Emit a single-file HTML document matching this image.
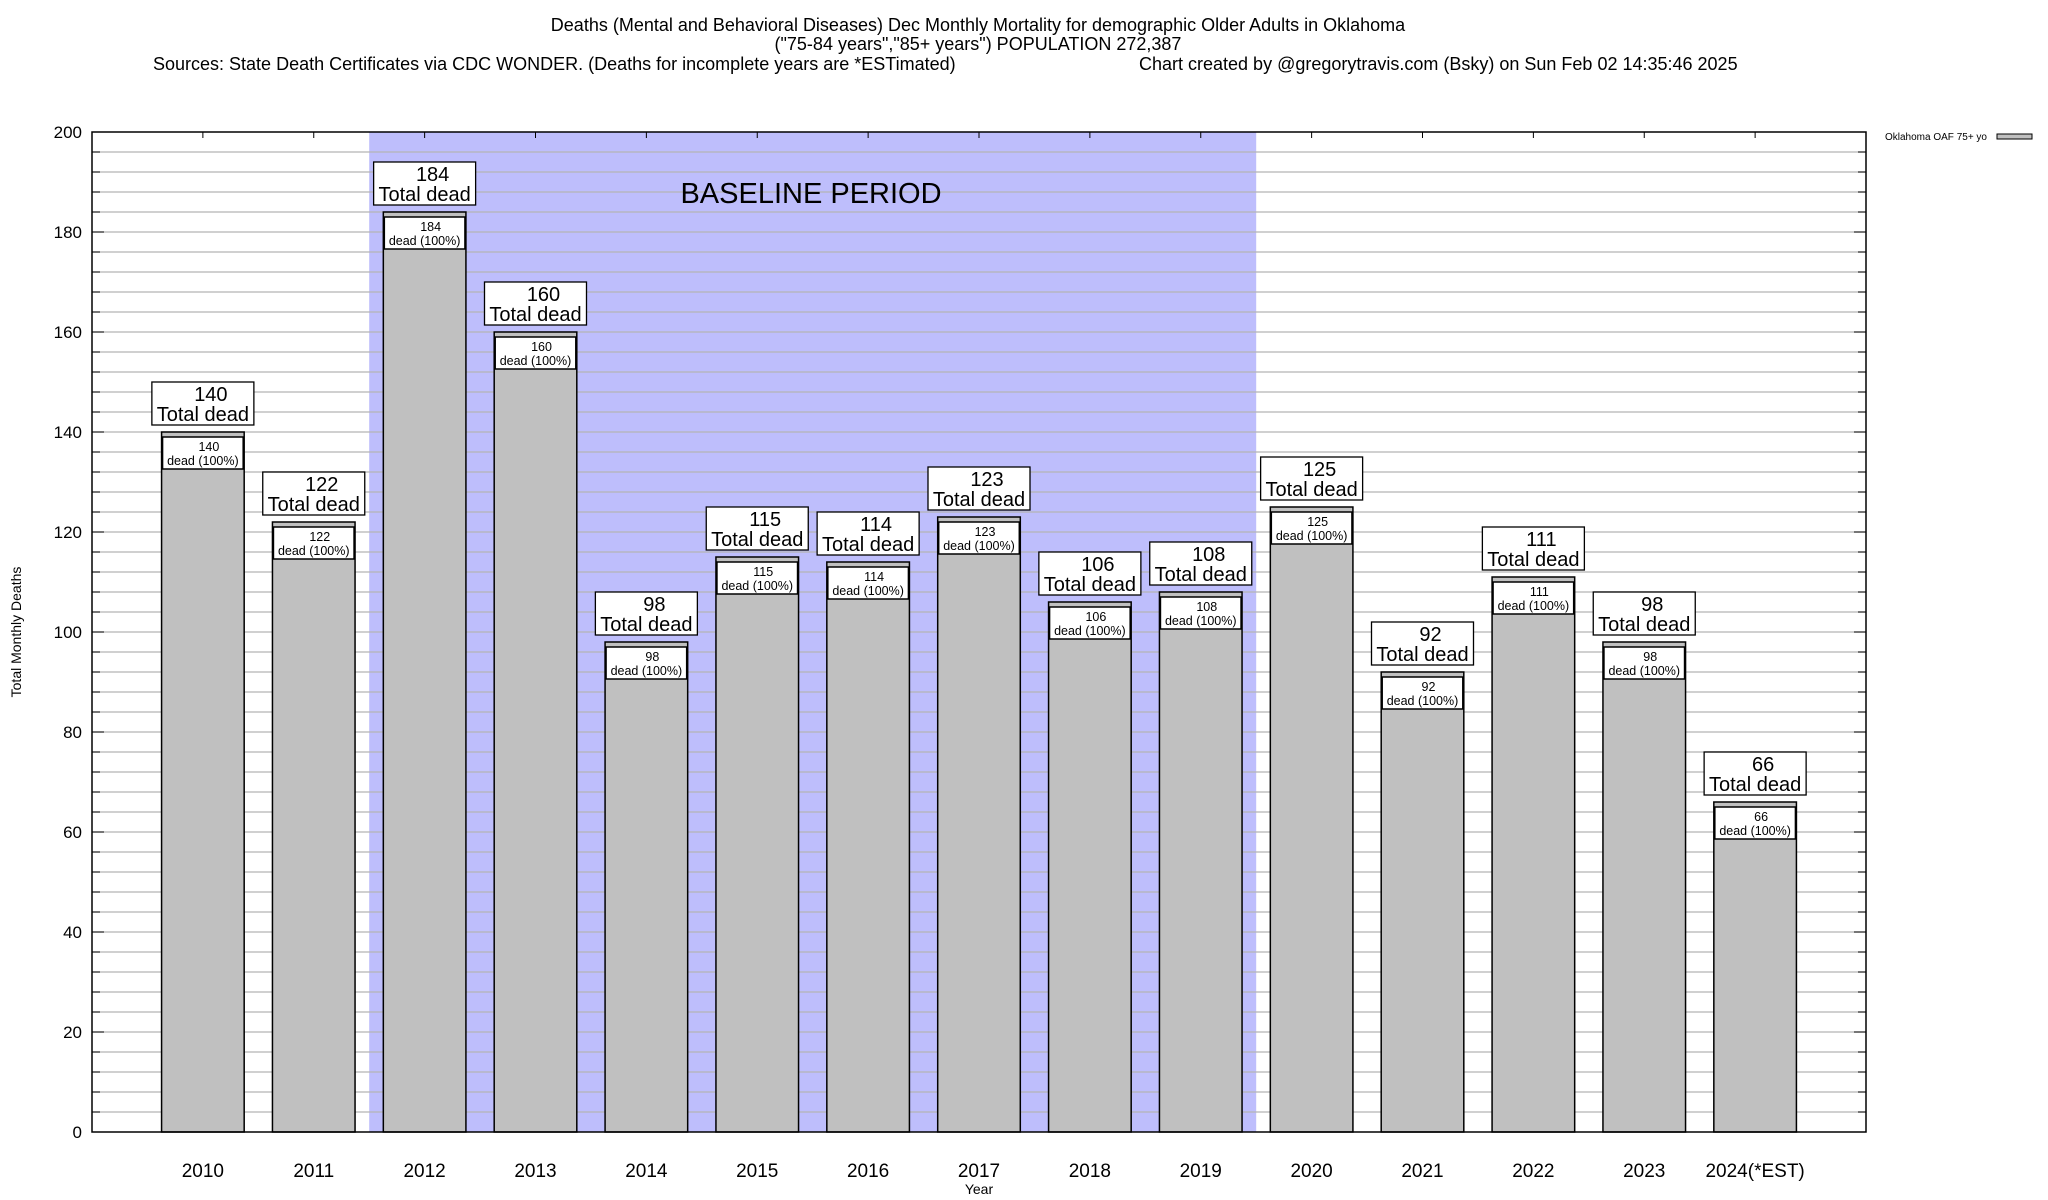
<!DOCTYPE html>
<html><head><meta charset="utf-8"><style>
html,body{margin:0;padding:0;background:#fff;}
svg{display:block;font-family:"Liberation Sans",sans-serif;}
</style></head><body>
<svg id="chart" width="2048" height="1200" viewBox="0 0 2048 1200" xmlns="http://www.w3.org/2000/svg">
<rect x="0" y="0" width="2048" height="1200" fill="#fff"/>
<g font-size="18" fill="#000">
<text x="978" y="31" text-anchor="middle">Deaths (Mental and Behavioral Diseases) Dec Monthly Mortality for demographic Older Adults in Oklahoma</text>
<text x="978" y="50" text-anchor="middle">("75-84 years","85+ years") POPULATION 272,387</text>
<text x="153" y="70">Sources: State Death Certificates via CDC WONDER. (Deaths for incomplete years are *ESTimated)</text>
<text x="1139" y="70">Chart created by @gregorytravis.com (Bsky) on Sun Feb 02 14:35:46 2025</text>
</g>
<g id="plot"></g>
</svg>
<script>
const categories = ["2010","2011","2012","2013","2014","2015","2016","2017","2018","2019","2020","2021","2022","2023","2024(*EST)"];
const deaths = [140,122,184,160,98,115,114,123,106,108,125,92,111,98,66];
const yTicks = [0,20,40,60,80,100,120,140,160,180,200];
const baselineRange = [2,9];

const NS = "http://www.w3.org/2000/svg";
const L = 92, R = 1866, T = 132, B = 1132;
const xMin = -1, xMax = 15, yMin = 0, yMax = 200;
const xs = i => L + (i - xMin) / (xMax - xMin) * (R - L);
const ys = v => B - (v - yMin) / (yMax - yMin) * (B - T);
const unit = (R - L) / (xMax - xMin);
const plot = document.getElementById('plot');
function mk(tag, attrs, parent, text) {
  const e = document.createElementNS(NS, tag);
  for (const k in attrs) e.setAttribute(k, attrs[k]);
  if (text !== undefined) e.textContent = text;
  (parent || plot).appendChild(e);
  return e;
}
// baseline shading
const shade = mk('rect', {x: xs(baselineRange[0] - 0.5), y: T, width: xs(baselineRange[1] + 0.5) - xs(baselineRange[0] - 0.5), height: B - T, fill: '#bebefc'});


// grid
for (let v = yMin + 4; v < yMax; v += 4) {
  const g = mk('line', {x1: L, x2: R, y1: ys(v), y2: ys(v), stroke: '#b4b4b4', 'stroke-width': 1.3});
  
  
  mk('line', {x1: L, x2: L + 8, y1: ys(v), y2: ys(v), stroke: '#000', 'stroke-width': 1});
  mk('line', {x1: R - 8, x2: R, y1: ys(v), y2: ys(v), stroke: '#000', 'stroke-width': 1});
}
const bl = mk('text', {x: 811, y: 203, 'font-size': 29, 'text-anchor': 'middle'}, null, 'BASELINE PERIOD');


// y ticks
yTicks.forEach(v => {
  const t = mk('text', {x: 82, y: ys(v) + 6, 'font-size': 17, 'text-anchor': 'end'}, null, String(v));
  
  
  mk('line', {x1: L, x2: L + 12, y1: ys(v), y2: ys(v), stroke: '#000', 'stroke-width': 1});
  mk('line', {x1: R - 12, x2: R, y1: ys(v), y2: ys(v), stroke: '#000', 'stroke-width': 1});
});
// bars
const bw = unit * 0.745;
categories.forEach((c, i) => {
  const cx = xs(i), v = deaths[i], top = ys(v);
  const bar = mk('rect', {x: cx - bw / 2, y: top, width: bw, height: B - top, fill: '#c0c0c0', stroke: '#000', 'stroke-width': 1.5});
  
  
  // inner label
  const ib = mk('rect', {x: cx - bw / 2 + 1, y: top + 5, width: bw - 2, height: 32, fill: '#fff', stroke: '#000', 'stroke-width': 1.5});
  
  
  mk('text', {x: cx + 6, y: top + 19, 'font-size': 12.5, 'text-anchor': 'middle'}, null, String(v));
  mk('text', {x: cx, y: top + 33, 'font-size': 12.5, 'text-anchor': 'middle'}, null, 'dead (100%)');
  // outer label
  const ob = mk('rect', {x: cx - 51, y: top - 50, width: 102, height: 43, fill: '#fff', stroke: '#000', 'stroke-width': 1.3});
  
  
  mk('text', {x: cx + 8, y: top - 31, 'font-size': 20, 'text-anchor': 'middle'}, null, String(v));
  mk('text', {x: cx, y: top - 11, 'font-size': 20, 'text-anchor': 'middle'}, null, 'Total dead');
  // x tick
  mk('line', {x1: cx, x2: cx, y1: T, y2: T + 6, stroke: '#000', 'stroke-width': 1});
  const xl = mk('text', {x: cx, y: 1177, 'font-size': 19, 'text-anchor': 'middle'}, null, c);
  
  
});
// border
const border = mk('rect', {x: L, y: T, width: R - L, height: B - T, fill: 'none', stroke: '#000', 'stroke-width': 1.5});


const xt = mk('text', {x: 979, y: 1194, 'font-size': 14, 'text-anchor': 'middle'}, null, 'Year');


const yt = mk('text', {x: 0, y: 0, 'font-size': 14, 'text-anchor': 'middle', transform: 'translate(21,632) rotate(-90)'}, null, 'Total Monthly Deaths');


// legend
const lg = mk('g', {});


mk('text', {x: 1885, y: 140, 'font-size': 10}, lg, 'Oklahoma OAF 75+ yo');
mk('rect', {x: 1997, y: 134, width: 35, height: 5, fill: '#c0c0c0', stroke: '#000', 'stroke-width': 1}, lg);
</script>
</body></html>
